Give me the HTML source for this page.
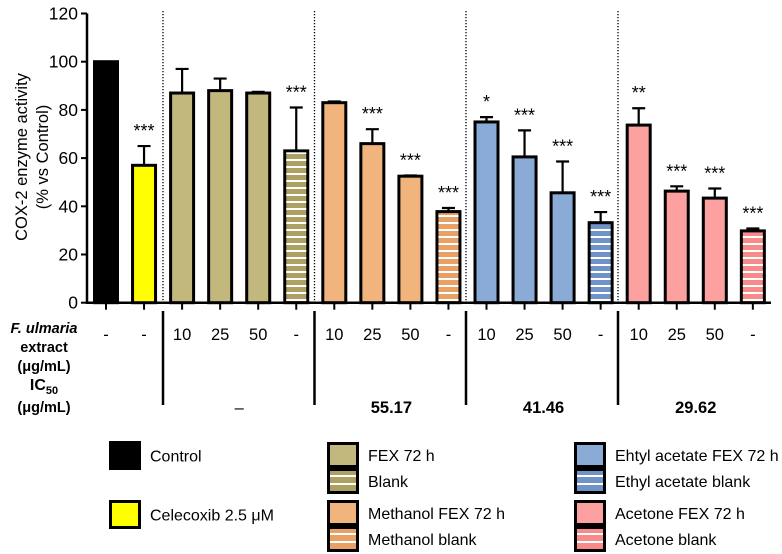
<!DOCTYPE html>
<html><head><meta charset="utf-8"><style>
html,body{margin:0;padding:0;background:#fff}
svg{display:block;font-family:"Liberation Sans",Arial,sans-serif}
</style></head><body>
<svg id="chart" width="782" height="554" viewBox="0 0 782 554">
<defs>
<pattern id="hl" width="10" height="7" patternUnits="userSpaceOnUse"><rect y="5" width="10" height="2" fill="#fff"/></pattern>
</defs>
<g id="plot"></g>
<g id="table"></g>
<g id="legend"></g>
</svg>
<script>
const categories=["Control","Celecoxib","FEX 10","FEX 25","FEX 50","FEX blank","Meth 10","Meth 25","Meth 50","Meth blank","Ethyl 10","Ethyl 25","Ethyl 50","Ethyl blank","Acet 10","Acet 25","Acet 50","Acet blank"];
const values=[100,57,87,88,87,63,83,66,52.5,37.8,75,60.5,45.6,33.2,73.7,46.3,43.4,29.8];
const errors=[0,8,10,5,0.5,18,0.5,6,0.3,1.5,2,11,13,4.4,7,2,4,1];
const stars=["","***","","","","***","","***","***","***","*","***","***","***","**","***","***","***"];
const doses=["-","-","10","25","50","-","10","25","50","-","10","25","50","-","10","25","50","-"];
const ic50=["–","55.17","41.46","29.62"];
const yTicks=[0,20,40,60,80,100,120];
const fills=["#000","#ffff00","#c2b77c","#c2b77c","#c2b77c","#aea062","#f1b47c","#f1b47c","#f1b47c","#e8a064","#8aabd6","#8aabd6","#8aabd6","#6f93c8","#fda0a0","#fda0a0","#fda0a0","#f98a8a"];
const hatched=[0,0,0,0,0,1,0,0,0,1,0,0,0,1,0,0,0,1];

const NS="http://www.w3.org/2000/svg";
function mk(tag,attrs,parent,txt){const e=document.createElementNS(NS,tag);for(const k in attrs)e.setAttribute(k,attrs[k]);if(txt!==undefined)e.textContent=txt;parent.appendChild(e);return e;}
const y0=302.7,pxu=2.41;
const yS=v=>y0-v*pxu;
const xS=i=>106+i*38.05;
const plot=document.getElementById('plot');
const axisX=87;
let ya=mk('line',{x1:axisX,y1:yS(120),x2:axisX,y2:y0+1,stroke:'#000','stroke-width':2.5},plot);

yTicks.forEach(t=>{
 let tk=mk('line',{x1:axisX-6,y1:yS(t),x2:axisX,y2:yS(t),stroke:'#000','stroke-width':2},plot);
 
 let tl=mk('text',{x:axisX-9,y:yS(t)+6,'text-anchor':'end','font-size':17.5},plot,t);
 
});
let yt=mk('text',{transform:'translate(27,157) rotate(-90)','text-anchor':'middle','font-size':16.5},plot);

mk('tspan',{x:0,y:0},yt,'COX-2 enzyme activity');mk('tspan',{x:0,y:21},yt,'(% vs Control)');
[163,314.5,466,618].forEach(x=>{
 let d=mk('line',{x1:x,y1:11,x2:x,y2:y0,stroke:'#000','stroke-width':1.3,'stroke-dasharray':'1.3 1.7'},plot);
 
});
const bw=23;
values.forEach((v,i)=>{
 const cx=xS(i),top=yS(v);
 if(errors[i]>0){
  const et=yS(v+errors[i]);
  let e=mk('path',{d:`M${cx},${top} V${et} M${cx-6.5},${et} H${cx+6.5}`,stroke:'#000','stroke-width':2.2,fill:'none'},plot);
  
 }
 let b=mk('rect',{x:cx-bw/2,y:top,width:bw,height:y0-top,fill:fills[i],stroke:'#000','stroke-width':3},plot);
 
 
 if(hatched[i]){let h=mk('rect',{x:cx-bw/2+1.5,y:top+1.5,width:bw-3,height:Math.max(0,y0-top-3),fill:'url(#hl)'},plot);
  }
 if(stars[i]){let s=mk('text',{x:cx,y:yS(v+errors[i])-9,'text-anchor':'middle','font-size':18},plot,stars[i]);
  }
 let tk=mk('line',{x1:cx,y1:y0,x2:cx,y2:y0+7,stroke:'#000','stroke-width':2},plot);
 
});
let xa=mk('line',{x1:axisX-1,y1:y0,x2:771,y2:y0,stroke:'#000','stroke-width':2.5},plot);

const tb=document.getElementById('table');
[163,314.5,466,618].forEach(x=>{let l=mk('line',{x1:x,y1:311,x2:x,y2:405,stroke:'#000','stroke-width':2.5},tb);
 });
const rl=[["F. ulmaria",333,'italic'],["extract",352,''],["(μg/mL)",371,'']];
rl.forEach(r=>{let t=mk('text',{x:44,y:r[1],'text-anchor':'middle','font-size':14.5,'font-weight':'bold','font-style':r[2]||'normal'},tb,r[0]);
 });
let ic=mk('text',{x:44,y:390,'text-anchor':'middle','font-size':16,'font-weight':'bold'},tb);

mk('tspan',{},ic,'IC');mk('tspan',{dy:4,'font-size':11},ic,'50');
let ic2=mk('text',{x:44,y:412,'text-anchor':'middle','font-size':14.5,'font-weight':'bold'},tb,'(μg/mL)');

doses.forEach((d,i)=>{let t=mk('text',{x:xS(i),y:340,'text-anchor':'middle','font-size':16.5},tb,d);
 });
ic50.forEach((v,g)=>{const cx=(xS(2+g*4)+xS(5+g*4))/2;
 let t=mk('text',{x:cx,y:413,'text-anchor':'middle','font-size':16.5,'font-weight':v==='–'?'normal':'bold'},tb,v);
 });
const lg=document.getElementById('legend');
const legendItems=[["Control",109,441,"#000",0],["Celecoxib 2.5 μM",109,500,"#ffff00",0],
["FEX 72 h",327,442,"#c2b77c",0],["Blank",327,468,"#aea062",1],["Methanol FEX 72 h",327,500,"#f1b47c",0],["Methanol blank",327,526,"#e8a064",1],
["Ehtyl acetate FEX 72 h",574,442,"#8aabd6",0],["Ethyl acetate blank",574,468,"#6f93c8",1],["Acetone FEX 72 h",574,500,"#fda0a0",0],["Acetone blank",574,526,"#f98a8a",1]];
legendItems.forEach(it=>{
 const [lab,x,y,c,h]=it;const big=x===109;const w=29,hh=big?26:23;
 let r=mk('rect',{x:x+1.5,y:y+1.5,width:w,height:hh,fill:c,stroke:'#000','stroke-width':3},lg);
 
 if(h){mk('rect',{x:x+3,y:y+7,width:w-3,height:2,fill:'#fff'},lg);mk('rect',{x:x+3,y:y+15,width:w-3,height:2,fill:'#fff'},lg);}
 let t=mk('text',{x:x+41,y:y+hh/2+7.5,'font-size':16},lg,lab);
 
});
</script>
</body></html>
